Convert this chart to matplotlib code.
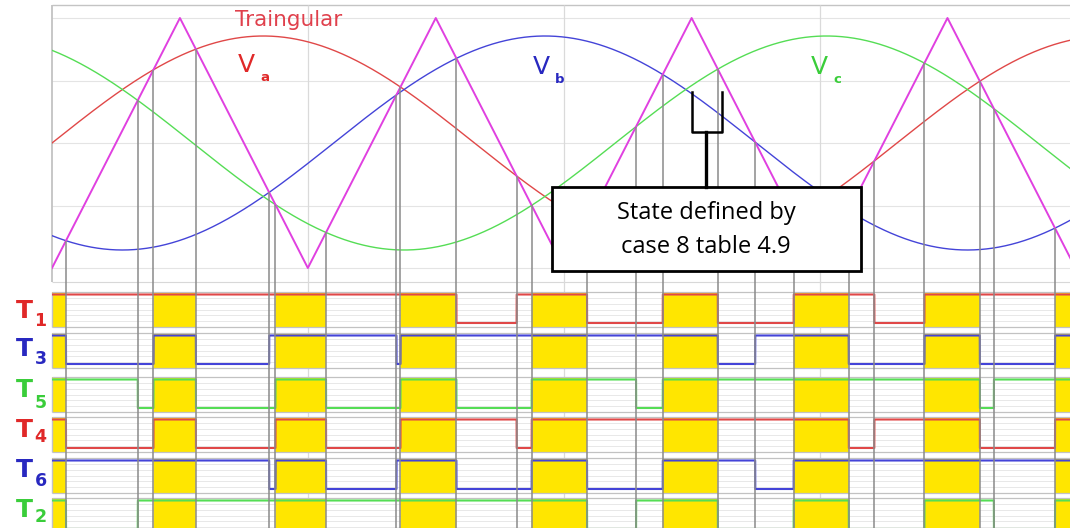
import numpy as np
import matplotlib.pyplot as plt

# fundamental angle in degrees; triangular carrier given by its corner points
carrier_t = [0, 54.5, 109, 163.5, 218, 272.5, 327, 381.5, 436]
carrier_v = [-1, 1, -1, 1, -1, 1, -1, 1, -1]

# three-phase references (peak relative to carrier peak, phase shift in degrees)
ref_names = ['a', 'b', 'c']
ref_shift = [0, -120, 120]
ref_amp = 0.856

# gate rows from top to bottom: switch number, phase index, upper/lower leg
gate_names = ['1', '3', '5', '4', '6', '2']
gate_phase = [0, 1, 2, 0, 1, 2]
gate_upper = [True, True, True, False, False, False]

red, blue, green = '#E04848', '#4444D8', '#55DD55'
ref_colors = [red, blue, green]
label_colors = ['#E02828', '#2828C0', '#3ACD3A']
yellow = '#FFE600'
tri_color = '#E040E0'
vline_color = '#8A8A8A'

theta = np.linspace(0, 434, 43401)
carrier = np.interp(theta, carrier_t, carrier_v)
refs = [ref_amp * np.sin(np.radians(theta + s)) for s in ref_shift]
vmax = np.max(refs, axis=0)
vmin = np.min(refs, axis=0)
zero_state = (carrier > vmax) | (carrier < vmin)

fig = plt.figure(figsize=(10.7, 5.28), dpi=100)
ax = fig.add_axes([52 / 1070, 0, 1018 / 1070, 1])
x_end = 433.7
y_bot = -3.08
ax.set_xlim(0, x_end)
ax.set_ylim(y_bot, 1.144)
ax.axis('off')

# top panel frame and grid
top_frame, bot_frame = 1.104, -1.112
ax.hlines([-1, -0.5, 0, 0.5, 1], 0, x_end, color='#E4E4E4', lw=0.8, zorder=0)
ax.hlines(top_frame, 0, x_end, color='#C4C4C4', lw=1.0, zorder=0)
ax.hlines(bot_frame, 0, x_end, color='#D8D8D8', lw=0.8, zorder=0)
ax.vlines(0, bot_frame, top_frame, color='#BDBDBD', lw=1.2, zorder=0, clip_on=False)
ax.vlines(carrier_t[2:-1:2], y_bot, top_frame, color='#DADADA', lw=0.9, zorder=0)

# waveforms
for r, c in zip(refs, ref_colors):
    ax.plot(theta, r, color=c, lw=1.0, zorder=3)
ax.plot(carrier_t, carrier_v, color=tri_color, lw=1.4, zorder=3)

# vertical lines from each crossing down through the gate rows
for r in refs:
    d = r - carrier
    idx = np.where(np.diff(np.sign(d)) != 0)[0]
    ax.vlines(theta[idx], y_bot, carrier[idx], color=vline_color, lw=1.1, zorder=4)

# gate signal rows
row_tops = [-1.192, -1.52, -1.872, -2.192, -2.52, -2.84]
row_h = 0.28
t_label_y = [-1.348, -1.644, -1.976, -2.296, -2.616, -2.936]
sub_label_y = [-1.42, -1.728, -2.084, -2.356, -2.708, -2.99]
for i, (name, ph, up) in enumerate(zip(gate_names, gate_phase, gate_upper)):
    top = row_tops[i]
    bot = top - row_h
    hi, lo = top - 0.02, top - 0.248
    ax.hlines(np.linspace(top, bot, 7)[1:-1], 0, x_end, color='#E4E4E4', lw=0.6, zorder=0.5)
    ax.fill_between(theta, bot, top, where=zero_state, color=yellow, lw=0, zorder=1)
    ax.hlines([top, bot], 0, x_end, color='#C2C2C2', lw=0.9, zorder=2)
    ax.vlines(0, bot, top, color='#C2C2C2', lw=1.0, zorder=2, clip_on=False)

    on = refs[ph] > carrier if up else refs[ph] < carrier
    on = on | zero_state
    ax.plot(theta, np.where(on, hi, lo), color=ref_colors[ph], lw=1.5, zorder=3)

    ax.text(-11.9, t_label_y[i], 'T', color=label_colors[ph], fontsize=18,
            fontweight='bold', ha='center', va='center')
    ax.text(-4.9, sub_label_y[i], name, color=label_colors[ph], fontsize=12.5,
            fontweight='bold', ha='center', va='center')

# waveform labels
ax.text(101, 0.984, 'Traingular', color='#E0404C', fontsize=15.5,
        ha='center', va='center', zorder=5)
v_pos = [(83, 0.624), (208.3, 0.608), (326.8, 0.608)]
for (x, y), name, c in zip(v_pos, ref_names, label_colors):
    ax.text(x, y, 'V', color=c, fontsize=18, ha='center', va='center', zorder=5)
    ax.text(x + 7.8, y - 0.1, name, color=c, fontsize=9.5, fontweight='bold',
            ha='center', va='center', zorder=5)

# annotation box with bracket
ax.add_patch(plt.Rectangle((213.0, -1.024), 131.7, 0.672, facecolor='white',
                           edgecolor='black', lw=2.0, zorder=8))
ax.text(278.6, -0.56, 'State defined by', fontsize=17, family='Open Sans',
        ha='center', va='center', zorder=9)
ax.text(278.6, -0.832, 'case 8 table 4.9', fontsize=17, family='Open Sans',
        ha='center', va='center', zorder=9)
ax.plot([272.7, 272.7, 285.4, 285.4], [0.408, 0.088, 0.088, 0.408], color='black',
        lw=1.8, solid_joinstyle='round', zorder=8)
ax.plot([278.6, 278.6], [0.088, -0.352], color='black', lw=2.4, zorder=8)

fig.savefig('out.png', dpi=100)
